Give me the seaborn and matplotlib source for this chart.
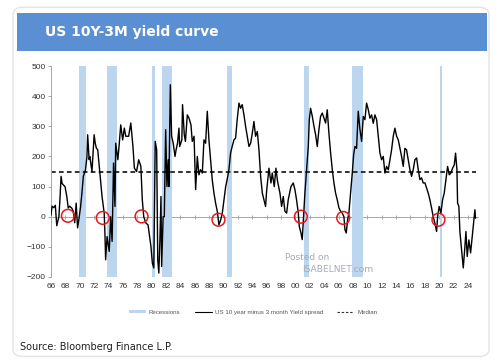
import matplotlib
matplotlib.use('Agg')
import matplotlib.pyplot as plt
from matplotlib.patches import FancyBboxPatch, Rectangle, Patch
from matplotlib.lines import Line2D
import pandas as pd
import seaborn as sns

# US 10y minus 3m spread (bp)
years = [
    1966.0, 1966.15, 1966.4, 1966.6, 1966.8, 1967.1, 1967.25, 1967.4, 1967.55, 1967.7,
    1967.95, 1968.2, 1968.4, 1968.6, 1968.9, 1969.1, 1969.3, 1969.5, 1969.7, 1969.9,
    1970.1, 1970.3, 1970.5, 1970.8, 1971.0, 1971.1, 1971.3, 1971.4, 1971.7, 1972.0,
    1972.15, 1972.3, 1972.5, 1972.8, 1973.1, 1973.4, 1973.5, 1973.6, 1973.8, 1974.1,
    1974.3, 1974.5, 1974.7, 1974.9, 1975.0, 1975.3, 1975.5, 1975.7, 1975.97, 1976.2,
    1976.4, 1976.8, 1977.1, 1977.4, 1977.6, 1977.9, 1978.2, 1978.5, 1978.7, 1978.9,
    1979.2, 1979.5, 1979.9, 1980.1, 1980.3, 1980.5, 1980.7, 1980.85, 1981.0, 1981.15,
    1981.3, 1981.39, 1981.6, 1981.76, 1981.95, 1982.13, 1982.3, 1982.4, 1982.6, 1982.78,
    1983.0, 1983.25, 1983.4, 1983.6, 1983.8, 1983.9, 1984.2, 1984.3, 1984.54, 1984.7,
    1984.96, 1985.2, 1985.47, 1985.65, 1985.9, 1986.12, 1986.35, 1986.58, 1986.8, 1987.05,
    1987.28, 1987.51, 1987.74, 1987.97, 1988.2, 1988.43, 1988.67, 1988.9, 1989.13, 1989.36,
    1989.6, 1989.83, 1990.06, 1990.3, 1990.5, 1990.75, 1990.98, 1991.2, 1991.45, 1991.68,
    1991.9, 1992.15, 1992.38, 1992.6, 1992.84, 1993.07, 1993.3, 1993.54, 1993.77, 1994.0,
    1994.23, 1994.46, 1994.7, 1994.93, 1995.16, 1995.4, 1995.62, 1995.85, 1995.99, 1996.32,
    1996.6, 1996.78, 1997.06, 1997.29, 1997.5, 1997.85, 1998.08, 1998.31, 1998.54, 1998.78,
    1999.0, 1999.38, 1999.7, 1999.93, 2000.16, 2000.4, 2000.54, 2000.77, 2000.95, 2001.14,
    2001.32, 2001.56, 2001.79, 2001.93, 2002.11, 2002.35, 2002.58, 2002.81, 2003.04, 2003.27,
    2003.5, 2003.74, 2003.97, 2004.2, 2004.43, 2004.66, 2004.9, 2005.13, 2005.36, 2005.59,
    2005.82, 2006.06, 2006.29, 2006.52, 2006.75, 2006.89, 2007.07, 2007.26, 2007.44, 2007.68,
    2007.91, 2008.1, 2008.28, 2008.51, 2008.74, 2008.98, 2009.21, 2009.44, 2009.67, 2009.9,
    2010.14, 2010.37, 2010.6, 2010.83, 2011.06, 2011.3, 2011.53, 2011.76, 2011.99, 2012.22,
    2012.45, 2012.68, 2012.92, 2013.15, 2013.38, 2013.61, 2013.84, 2014.08, 2014.31, 2014.54,
    2014.77, 2015.0, 2015.23, 2015.46, 2015.7, 2015.93, 2016.16, 2016.39, 2016.62, 2016.86,
    2017.09, 2017.32, 2017.55, 2017.78, 2018.02, 2018.25, 2018.48, 2018.71, 2018.94, 2019.17,
    2019.4, 2019.64, 2019.78, 2020.0, 2020.24, 2020.47, 2020.7, 2020.93, 2021.17, 2021.4,
    2021.63, 2021.86, 2022.1, 2022.28, 2022.47, 2022.56, 2022.74, 2022.88, 2023.11, 2023.35,
    2023.58, 2023.72, 2023.9, 2024.13, 2024.37, 2024.6, 2024.78, 2024.97, 2025.06,
]
spread = [
    5, 35, 30, 38, -30, 0, 60, 134, 110, 106,
    100, 67, 29, 35, 28, 18, -20, 45, -37, -5,
    30, 78, 134, 156, 200, 272, 190, 200, 150, 272,
    245, 228, 222, 145, 67, 12, -54, -143, -66, -115,
    0, -82, 178, 34, 244, 189, 244, 305, 255, 294,
    267, 267, 311, 233, 161, 150, 189, 167, 56, 0,
    -21, -27, -98, -154, -170, 250, 222, -143, -187, -77,
    67, -165, 0, 0, 289, 100, 189, 100, 438, 267,
    244, 200, 222, 244, 294, 233, 255, 372, 272, 250,
    338, 327, 305, 250, 267, 90, 200, 139, 156, 145,
    255, 244, 350, 255, 189, 123, 78, 45, 18, -27,
    -11, 12, 56, 100, 123, 156, 211, 233, 255, 261,
    322, 377, 360, 372, 338, 300, 267, 233, 244, 277,
    316, 267, 283, 222, 134, 78, 56, 34, 84, 161,
    112, 145, 100, 161, 120, 78, 34, 67, 18, 12,
    56, 100, 112, 90, 56, 12, -32, -54, -76, 0,
    78, 156, 233, 322, 360, 333, 300, 272, 233, 289,
    333, 344, 327, 311, 355, 277, 211, 156, 112, 78,
    56, 29, 18, 12, 0, -43, -54, -11, 12, 78,
    145, 206, 233, 227, 350, 289, 250, 333, 322, 377,
    355, 327, 338, 310, 338, 322, 267, 211, 189, 200,
    145, 167, 156, 189, 222, 267, 294, 267, 255, 227,
    200, 167, 227, 222, 189, 156, 134, 156, 189, 195,
    156, 123, 129, 112, 112, 95, 78, 56, 29, 0,
    -21, -49, 0, 34, 12, 56, 78, 123, 167, 139,
    145, 161, 172, 211, 156, 45, 34, -49, -110, -170,
    -99, -49, -132, -77, -120, -66, -21, 23, -5,
]
median_bp = 150

recession_start = [1969.92, 1973.83, 1980.0, 1981.5, 1990.5, 2001.17, 2007.92, 2020.08]
recession_end = [1970.83, 1975.17, 1980.5, 1982.83, 1991.17, 2001.83, 2009.42, 2020.33]

inversion_years = [1968.35, 1973.2, 1978.6, 1989.3, 2000.75, 2006.65, 2019.9]
inversion_values = [3, -4, 1, -10, 0, -4, -10]

x_ticks = list(range(1966, 2025, 2))
x_labels = [f'{y % 100:02d}' for y in x_ticks]
y_ticks = [-200, -100, 0, 100, 200, 300, 400, 500]

band_color = '#bcd6ef'
title_blue = '#5b8fd4'

df = pd.DataFrame({'year': years, 'spread': spread})
df['median'] = median_bp

sns.set_theme(style='white')
plt.rcParams['font.family'] = ['DejaVu Sans']

fig = plt.figure(figsize=(5, 3.63), dpi=100)

# card frame and title bar
fig.patches.append(FancyBboxPatch((0.026, 0.018), 0.952, 0.962, transform=fig.transFigure,
                                  boxstyle='round,pad=0,rounding_size=0.02',
                                  facecolor='white', edgecolor='#e4e4e4', lw=1.0, zorder=-10))
fig.patches.append(Rectangle((0.034, 0.86), 0.94, 0.104, transform=fig.transFigure,
                             facecolor=title_blue, edgecolor='none', zorder=-5))
fig.text(0.09, 0.912, 'US 10Y-3M yield curve', color='white', fontsize=10, fontweight='bold',
         va='center', ha='left')

ax = fig.add_axes([0.102, 0.237, 0.854, 0.581])
ax.set_facecolor('none')

for s, e in zip(recession_start, recession_end):
    ax.axvspan(s, e, color=band_color, lw=0, zorder=1)

sns.lineplot(data=df, x='year', y='spread', ax=ax, color='black', lw=1.0, zorder=3)
sns.lineplot(data=df, x='year', y='median', ax=ax, color='#222222', lw=1.3,
             linestyle=(0, (2.6, 1.8)), zorder=2)
ax.scatter(inversion_years, inversion_values, s=85, facecolors='none', edgecolors='#e8161b',
           linewidths=1.1, zorder=4)

ax.set_xlim(1966, 2025.4)
ax.set_ylim(-200, 500)
ax.set_xlabel('')
ax.set_ylabel('')
ax.set_xticks(x_ticks)
ax.set_xticklabels(x_labels)
ax.set_yticks(y_ticks)
ax.tick_params(axis='x', length=0, pad=4, labelsize=6, labelcolor='#333333')
ax.tick_params(axis='y', length=2, width=0.6, color='#999999', pad=2, labelsize=6,
               labelcolor='#333333', left=True)
for lab in ax.get_xticklabels() + ax.get_yticklabels():
    lab.set_family('Liberation Sans')
for side in ['top', 'right', 'bottom']:
    ax.spines[side].set_visible(False)
ax.spines['left'].set_color('#a6a6a6')
ax.spines['left'].set_linewidth(0.7)

# zero line with its own small ticks
zero_axis = ax.secondary_xaxis(2 / 7)
zero_axis.set_xticks(x_ticks)
zero_axis.set_xticklabels([])
zero_axis.tick_params(length=2.5, width=0.6, color='#999999', direction='inout')
zero_axis.spines['bottom'].set_color('#a6a6a6')
zero_axis.spines['bottom'].set_linewidth(0.7)

# watermark
ax.text(0.548, 0.09, 'Posted on', transform=ax.transAxes, fontsize=6.5, color='#a4acb8',
        ha='left', va='center', zorder=5)
ax.text(0.588, 0.034, 'ISABELNET.com', transform=ax.transAxes, fontsize=6.6, color='#a4acb8',
        ha='left', va='center', zorder=5)

handles = [Patch(facecolor=band_color, edgecolor='none'),
           Line2D([], [], color='black', lw=0.8),
           Line2D([], [], color='#333333', lw=0.8, linestyle=(0, (2.2, 1.6)))]
labels = ['Recessions', 'US 10 year minus 3 month Yield spread', 'Median']
leg = fig.legend(handles, labels, loc='center', bbox_to_anchor=(0.506, 0.14), ncol=3,
                 frameon=False, prop={'family': 'Liberation Sans', 'size': 4.4},
                 handlelength=2.8, handleheight=0.5, handletextpad=0.5, columnspacing=2.3)
for t in leg.get_texts():
    t.set_color('#555555')

fig.text(0.04, 0.044, 'Source: Bloomberg Finance L.P.', fontsize=7, color='#1e1e1e',
         ha='left', va='center')

fig.savefig('out.png', dpi=100)
